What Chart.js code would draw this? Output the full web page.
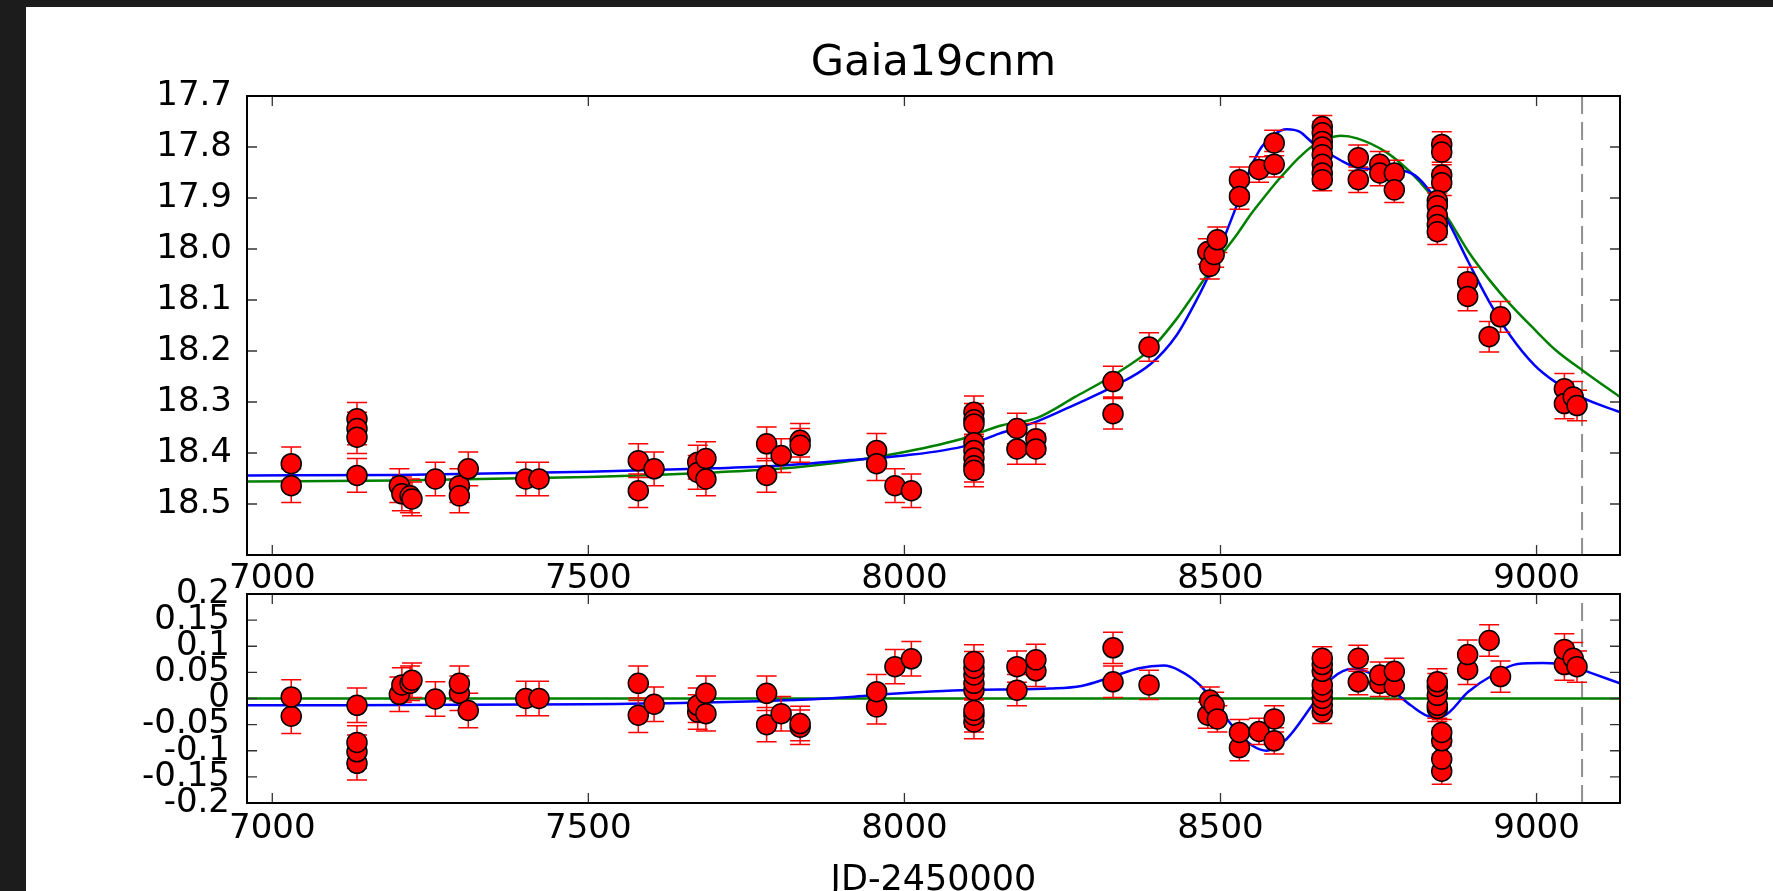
<!DOCTYPE html>
<html>
<head>
<meta charset="utf-8">
<title>Gaia19cnm</title>
<script src="https://cdn.jsdelivr.net/npm/chart.js@4.4.1/dist/chart.umd.min.js"></script>
<style>
  html, body { margin: 0; padding: 0; background: #1c1c1c; overflow: hidden; }
  #sheet { position: absolute; left: 26px; top: 7px; width: 1747px; height: 884px; background: #fff; }
  canvas { position: absolute; left: 0; top: 0; }
</style>
</head>
<body>
<div id="sheet"></div>
<canvas id="lightcurve" width="1773" height="891"></canvas>
<canvas id="residuals" width="1773" height="920"></canvas>
<script>
// photometry (JD-2450000, Gaia G mag, error, residual)
const jd = [
  7030, 7030, 7134, 7134, 7134, 7134, 7201, 7205, 7218, 7221,
  7258, 7296, 7296, 7310, 7401, 7422, 7579, 7579, 7604, 7673,
  7673, 7686, 7686, 7782, 7782, 7805, 7835, 7835, 7956, 7956,
  7985, 8011, 8110, 8110, 8110, 8110, 8110, 8110, 8110, 8110,
  8178, 8178, 8208, 8208, 8330, 8330, 8387, 8480, 8483, 8490,
  8495, 8530, 8530, 8561, 8585, 8585, 8661, 8661, 8661, 8661,
  8661, 8661, 8661, 8661, 8718, 8718, 8752, 8752, 8775, 8775,
  8850, 8850, 8850, 8850, 8843, 8843, 8843, 8843, 8843, 8891,
  8891, 8925, 8943, 9044, 9044, 9058, 9064
];
const mag = [
  18.421, 18.464, 18.333, 18.352, 18.369, 18.444, 18.464, 18.480, 18.484, 18.490,
  18.451, 18.464, 18.484, 18.431, 18.451, 18.451, 18.415, 18.474, 18.431, 18.418,
  18.438, 18.411, 18.451, 18.382, 18.444, 18.405, 18.375, 18.385, 18.395, 18.421,
  18.464, 18.474, 18.320, 18.335, 18.343, 18.380, 18.395, 18.410, 18.425, 18.434,
  18.352, 18.392, 18.372, 18.392, 18.260, 18.323, 18.192, 18.005, 18.034, 18.011,
  17.982, 17.864, 17.897, 17.844, 17.792, 17.834, 17.760, 17.772, 17.789, 17.800,
  17.815, 17.834, 17.851, 17.864, 17.821, 17.864, 17.834, 17.851, 17.851, 17.884,
  17.795, 17.810, 17.855, 17.870, 17.905, 17.915, 17.935, 17.952, 17.966, 18.064,
  18.093, 18.172, 18.133, 18.274, 18.303, 18.290, 18.307
];
const magErr = [
  0.033, 0.033, 0.032, 0.032, 0.032, 0.033, 0.033, 0.033, 0.033, 0.033,
  0.033, 0.033, 0.033, 0.033, 0.033, 0.033, 0.033, 0.033, 0.033, 0.033,
  0.033, 0.033, 0.033, 0.033, 0.033, 0.033, 0.033, 0.033, 0.033, 0.033,
  0.033, 0.033, 0.032, 0.032, 0.032, 0.032, 0.032, 0.032, 0.032, 0.032,
  0.030, 0.030, 0.030, 0.030, 0.030, 0.030, 0.028, 0.025, 0.025, 0.025,
  0.025, 0.025, 0.025, 0.025, 0.025, 0.025, 0.022, 0.022, 0.022, 0.022,
  0.022, 0.022, 0.022, 0.022, 0.025, 0.025, 0.025, 0.025, 0.025, 0.025,
  0.025, 0.025, 0.025, 0.025, 0.025, 0.025, 0.025, 0.025, 0.025, 0.028,
  0.028, 0.030, 0.030, 0.030, 0.030, 0.030, 0.030
];
const resid = [
  -0.034, 0.003, -0.124, -0.102, -0.084, -0.013, 0.008, 0.026, 0.029, 0.035,
  -0.001, 0.010, 0.029, -0.023, 0.000, 0.000, -0.032, 0.029, -0.011, -0.026,
  -0.013, -0.029, 0.010, -0.050, 0.010, -0.029, -0.055, -0.048, -0.016, 0.013,
  0.061, 0.076, -0.045, -0.032, -0.023, 0.016, 0.029, 0.045, 0.058, 0.071,
  0.016, 0.061, 0.053, 0.074, 0.032, 0.097, 0.026, -0.032, -0.003, -0.013,
  -0.039, -0.094, -0.065, -0.063, -0.081, -0.039, -0.026, -0.013, 0.000, 0.013,
  0.026, 0.052, 0.065, 0.077, 0.032, 0.077, 0.029, 0.045, 0.023, 0.052,
  -0.139, -0.116, -0.081, -0.065, -0.019, -0.013, 0.006, 0.023, 0.032, 0.055,
  0.084, 0.111, 0.042, 0.065, 0.094, 0.077, 0.061
];

// model curves
const modelJd = [
  6960, 7200, 7500, 7700, 7800, 7900, 8000, 8100, 8150, 8210,
  8270, 8330, 8390, 8430, 8460, 8482, 8505, 8528, 8548, 8565,
  8585, 8605, 8625, 8646, 8690, 8716, 8762, 8801, 8827, 8860,
  8892, 8925, 8958, 8997, 9030, 9075, 9132
];
const blueModel = [
  18.444, 18.443, 18.437, 18.430, 18.425, 18.415, 18.405, 18.385, 18.362, 18.338,
  18.305, 18.270, 18.225, 18.170, 18.105, 18.050, 17.980, 17.907, 17.840, 17.800,
  17.775, 17.765, 17.770, 17.792, 17.826, 17.840, 17.844, 17.851, 17.880, 17.946,
  18.025, 18.103, 18.169, 18.228, 18.261, 18.293, 18.320
];
const greenModel = [
  18.456, 18.454, 18.447, 18.438, 18.431, 18.418, 18.398, 18.369, 18.347, 18.331,
  18.290, 18.248, 18.196, 18.138, 18.085, 18.045, 18.006, 17.968, 17.932, 17.905,
  17.874, 17.846, 17.820, 17.798, 17.778, 17.783, 17.810, 17.850, 17.885, 17.940,
  18.005, 18.060, 18.108, 18.158, 18.198, 18.240, 18.290
];
const residJd = [
  6960, 7500, 7800, 7915, 7968, 8020, 8090, 8150, 8230, 8280,
  8330, 8371, 8410, 8436, 8468, 8501, 8527, 8550, 8573, 8605,
  8645, 8677, 8710, 8742, 8775, 8801, 8834, 8853, 8892, 8931,
  8970, 9010, 9049, 9088, 9132
];
const blueResid = [
  -0.013, -0.011, -0.004, 0.003, 0.008, 0.012, 0.016, 0.017, 0.019, 0.024,
  0.042, 0.058, 0.063, 0.053, 0.025, -0.025, -0.064, -0.090, -0.100, -0.077,
  -0.013, 0.039, 0.057, 0.045, 0.013, -0.013, -0.035, -0.033, 0.013, 0.045,
  0.066, 0.068, 0.065, 0.048, 0.029
];
const greenResidJd = [6960, 9132];
const greenResid = [0, 0];

const markerJd = 9072;
const xTicks = [7000, 7500, 8000, 8500, 9000];
const magTicks = [17.7, 17.8, 17.9, 18.0, 18.1, 18.2, 18.3, 18.4, 18.5];
const residTicks = [0.2, 0.15, 0.1, 0.05, 0, -0.05, -0.1, -0.15, -0.2];

const FONT = 'DejaVu Sans';

const toPoints = (xs, ys) => xs.map((x, i) => ({ x: x, y: ys[i] }));

// red error bars, drawn just before the data markers
const errorBars = {
  id: 'errorBars',
  beforeDatasetDraw(chart, args) {
    const ds = chart.data.datasets[args.index];
    if (!ds.errorBars) return;
    const { ctx, chartArea: a, scales: { x, y } } = chart;
    ctx.save();
    ctx.beginPath();
    ctx.rect(a.left, a.top, a.right - a.left, a.bottom - a.top);
    ctx.clip();
    ctx.strokeStyle = '#ff0000';
    ctx.lineWidth = 1.5;
    ctx.beginPath();
    ds.data.forEach((p, i) => {
      const px = x.getPixelForValue(p.x);
      const y1 = y.getPixelForValue(p.y - ds.errorBars[i]);
      const y2 = y.getPixelForValue(p.y + ds.errorBars[i]);
      ctx.moveTo(px, y1); ctx.lineTo(px, y2);
      ctx.moveTo(px - 10, y1); ctx.lineTo(px + 10, y1);
      ctx.moveTo(px - 10, y2); ctx.lineTo(px + 10, y2);
    });
    ctx.stroke();
    ctx.restore();
  }
};

// matplotlib-like box with inward ticks on all sides
const frameTicks = {
  id: 'frameTicks',
  afterDraw(chart) {
    const { ctx, chartArea: a, scales } = chart;
    const len = 10;
    ctx.save();
    ctx.strokeStyle = '#333';
    ctx.lineWidth = 1.3;
    ctx.beginPath();
    scales.x.ticks.forEach(t => {
      const px = scales.x.getPixelForValue(t.value);
      ctx.moveTo(px, a.bottom); ctx.lineTo(px, a.bottom - len);
      ctx.moveTo(px, a.top); ctx.lineTo(px, a.top + len);
    });
    scales.y.ticks.forEach(t => {
      const py = scales.y.getPixelForValue(t.value);
      ctx.moveTo(a.left, py); ctx.lineTo(a.left + len, py);
      ctx.moveTo(a.right, py); ctx.lineTo(a.right - len, py);
    });
    ctx.stroke();
    ctx.strokeStyle = '#000';
    ctx.lineWidth = 2;
    ctx.strokeRect(a.left, a.top, a.right - a.left, a.bottom - a.top);
    ctx.restore();
  }
};

function pointSet(values) {
  return {
    label: 'data',
    data: toPoints(jd, values),
    errorBars: magErr,
    backgroundColor: '#ff0000',
    borderColor: '#000000',
    borderWidth: 1.5,
    pointRadius: 10,
    pointHoverRadius: 10,
    order: 0
  };
}

function curve(label, xs, ys, color) {
  return {
    type: 'line',
    label: label,
    data: toPoints(xs, ys),
    borderColor: color,
    borderWidth: 2.5,
    pointRadius: 0,
    cubicInterpolationMode: 'monotone',
    fill: false,
    order: 1
  };
}

function dashed(yLow, yHigh) {
  return {
    type: 'line',
    label: 'marker',
    data: [{ x: markerJd, y: yLow }, { x: markerJd, y: yHigh }],
    borderColor: '#8f8f8f',
    borderWidth: 2,
    borderDash: [18, 8],
    pointRadius: 0,
    order: 2
  };
}

function xAxis(height, pad, title) {
  return {
    type: 'linear',
    min: 6960,
    max: 9132,
    afterBuildTicks: ax => { ax.ticks = xTicks.map(v => ({ value: v })); },
    afterFit: ax => { ax.height = height; },
    grid: { display: false, drawTicks: false },
    border: { display: false },
    ticks: {
      color: '#000',
      font: { family: FONT, size: 34 },
      padding: pad,
      maxRotation: 0,
      autoSkip: false,
      callback: v => String(v)
    },
    title: title
  };
}

new Chart(document.getElementById('lightcurve'), {
  type: 'scatter',
  data: {
    datasets: [
      pointSet(mag),
      curve('model 1', modelJd, blueModel, '#0000ff'),
      curve('model 2', modelJd, greenModel, '#008000'),
      dashed(17.7, 18.6)
    ]
  },
  options: {
    responsive: false,
    animation: false,
    layout: { padding: { top: 38, right: 153, left: 0, bottom: 0 } },
    plugins: {
      legend: { display: false },
      tooltip: { enabled: false },
      title: {
        display: true,
        text: 'Gaia19cnm',
        fullSize: false,
        color: '#000',
        font: { family: FONT, size: 43, weight: 'normal' },
        padding: { top: 0, bottom: 6.4 }
      }
    },
    scales: {
      x: xAxis(336, 4, { display: false }),
      y: {
        type: 'linear',
        reverse: true,
        min: 17.7,
        max: 18.6,
        afterBuildTicks: ax => { ax.ticks = magTicks.map(v => ({ value: v })); },
        afterFit: ax => { ax.width = 247; },
        grid: { display: false, drawTicks: false },
        border: { display: false },
        ticks: {
          color: '#000',
          font: { family: FONT, size: 34 },
          padding: 15,
          autoSkip: false,
          callback: v => v.toFixed(1)
        }
      }
    }
  },
  plugins: [errorBars, frameTicks]
});

new Chart(document.getElementById('residuals'), {
  type: 'scatter',
  data: {
    datasets: [
      pointSet(resid),
      curve('model 1', residJd, blueResid, '#0000ff'),
      curve('model 2', greenResidJd, greenResid, '#008000'),
      dashed(-0.2, 0.2)
    ]
  },
  options: {
    responsive: false,
    animation: false,
    layout: { padding: { top: 594, right: 153, left: 0, bottom: 0 } },
    plugins: {
      legend: { display: false },
      tooltip: { enabled: false }
    },
    scales: {
      x: xAxis(117, 6, {
        display: true,
        text: 'JD-2450000',
        color: '#000',
        font: { family: FONT, size: 35 },
        padding: { top: 0, bottom: 18 }
      }),
      y: {
        type: 'linear',
        min: -0.2,
        max: 0.2,
        afterBuildTicks: ax => { ax.ticks = residTicks.map(v => ({ value: v })); },
        afterFit: ax => { ax.width = 247; },
        grid: { display: false, drawTicks: false },
        border: { display: false },
        ticks: {
          color: '#000',
          font: { family: FONT, size: 34 },
          padding: 17,
          autoSkip: false,
          callback: v => String(parseFloat(v.toFixed(2)))
        }
      }
    }
  },
  plugins: [errorBars, frameTicks]
});
</script>
</body>
</html>
